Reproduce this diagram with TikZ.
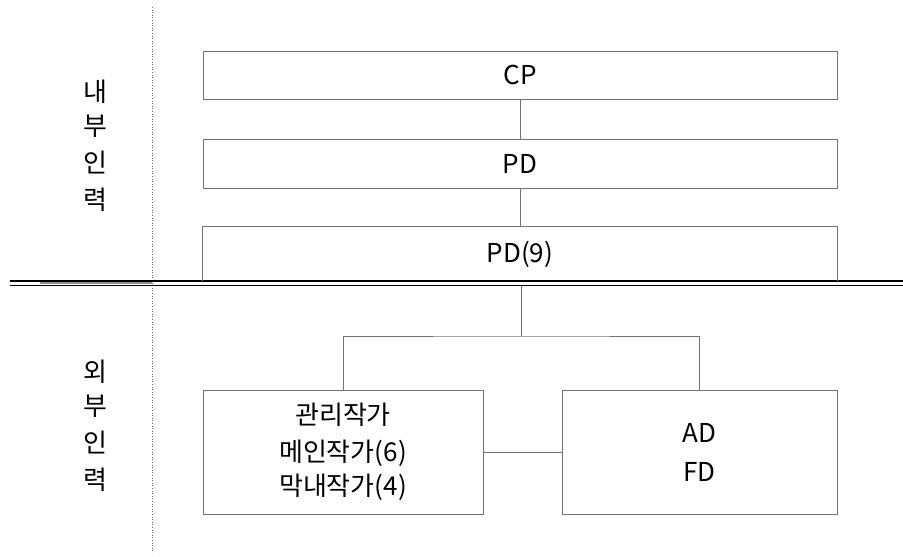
\documentclass[tikz,border=0pt]{standalone}
\usepackage{fontspec}
\setmainfont{Noto Sans CJK KR}
\newcommand{\boxfont}{\fontsize{26}{30}\selectfont}
\begin{document}
\begin{tikzpicture}[x=1pt,y=-1pt,
  box/.style={draw=black!55,line width=0.8pt,minimum width=#1,inner sep=0pt,font=\boxfont,align=center},
  link/.style={draw=black!55,line width=0.8pt},
  side/.style={font=\boxfont,inner sep=0pt}]
\useasboundingbox (0,0) rectangle (903,557);
% divider between the two groups
\draw[black!60,line width=0.6pt,dotted] (152,7) -- (152,553);
\draw[black,line width=1.4pt] (10,281) -- (903,281);
\draw[black,line width=1.4pt] (10,285.5) -- (903,285.5);
\draw[black!45,line width=2.2pt] (40,283.25) -- (152,283.25);
% internal staff
\node[box=634pt,minimum height=48pt] (cp) at (520,75) {CP};
\node[box=634pt,minimum height=49pt] (pd) at (520,163.5) {PD};
\node[inner sep=0pt,minimum width=634pt,minimum height=54pt,font=\boxfont] (pd9) at (520,254) {PD(9)};
\draw[link] (pd9.south west) -- (pd9.north west) -- (pd9.north east) -- (pd9.south east);
\draw[link] (cp) -- (pd);
\draw[link] (pd) -- (pd9);
% external staff
\node[box=280pt,minimum height=124pt] (wr) at (343,452) {관리작가\\[7pt]메인작가(6)\\[4pt]막내작가(4)};
\node[box=275pt,minimum height=124pt] (ad) at (699.5,452) {AD\\[9pt]FD};
\coordinate (top) at (521,286);
\coordinate (split) at (521,336);
\draw[link] (top) -- (split);
\draw[link] (wr.north) |- (split) -| (ad.north);
\draw[link] (wr.east |- ad.west) -- (ad.west);
% side labels
\node[side] (in1) at (95,92) {내};
\node[side] (in2) at (95,126) {부};
\node[side] (in3) at (95,163) {인};
\node[side] (in4) at (95,200) {력};
\node[side] (ex1) at (95,372) {외};
\node[side] (ex2) at (95,406) {부};
\node[side] (ex3) at (95,443) {인};
\node[side] (ex4) at (95,480) {력};
\end{tikzpicture}
\end{document}
